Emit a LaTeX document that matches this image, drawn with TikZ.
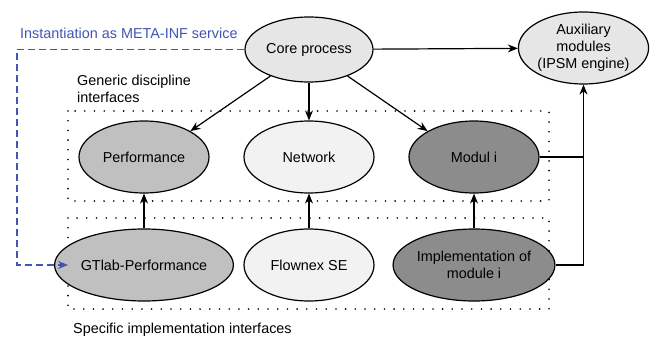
\documentclass[tikz,border=0pt]{standalone}
\usepackage{fontspec}
\setmainfont{Liberation Sans}
\usetikzlibrary{shapes.geometric,arrows.meta}
\definecolor{blueline}{HTML}{4055B5}
\definecolor{gA}{HTML}{E6E6E6}
\definecolor{gB}{HTML}{C0C0C0}
\definecolor{gC}{HTML}{F2F2F2}
\definecolor{gD}{HTML}{8C8C8C}
\begin{document}
\begin{tikzpicture}[x=1pt,y=-1pt,
  font=\fontsize{14.4}{17.2}\selectfont,
  ell/.style={ellipse,draw=black,line width=1.2pt,inner sep=0pt,minimum width=130pt,minimum height=72pt,align=center},
  arr/.style={-{Stealth[length=10pt,width=8pt]},line width=1.2pt},
  plain/.style={line width=1.2pt},
  dotbox/.style={line width=1.8pt,dash pattern=on 0pt off 9.7pt,line cap=round},
  bluedash/.style={draw=blueline,line width=1.2pt,dash pattern=on 7pt off 4pt,-{Stealth[length=10pt,width=8pt]}},
  lbl/.style={inner sep=0pt,align=left,anchor=west}
]
\useasboundingbox (0,0) rectangle (650,337);
% dotted boxes
\draw[dotbox] (68,111) rectangle (549,201);
\draw[dotbox] (68,218) rectangle (549,309);
% nodes
\node[ell,fill=gA,minimum width=128pt,minimum height=65pt] (core) at (309,49.5) {Core process};
\node[ell,fill=gA,minimum width=129pt,minimum height=72pt] (aux) at (583.5,48) {Auxiliary\\modules\\(IPSM engine)};
\node[ell,fill=gB] (perf) at (144,157) {Performance};
\node[ell,fill=gC] (net) at (309,157) {Network};
\node[ell,fill=gD] (mod) at (474,157) {Modul i};
\node[ell,fill=gB] (gtl) at (144,265) {GTlab-Performance};
\node[ell,fill=gC] (flow) at (309,265) {Flownex SE};
\node[ell,fill=gD] (impl) at (474,265) {Implementation of\\module i};
% labels
\node[lbl,text=blueline] (inst) at (20,33) {Instantiation as META-INF service};
\node[lbl] (gen) at (77,88.5) {Generic discipline\\interfaces};
\node[lbl] (spec) at (73,330) {Specific implementation interfaces};
% coordinates
\coordinate (bl1) at (17,49.5);
\coordinate (bl2) at (17,265);
\coordinate (bl3) at (68,265);
\coordinate (rj) at (584,157);
% connectors
\draw[arr] (core) -- (aux);
\draw[arr] (core) -- (perf.north east);
\draw[arr] (core) -- (net);
\draw[arr] (core) -- (mod.north west);
\draw[arr] (gtl) -- (perf);
\draw[arr] (flow) -- (net);
\draw[arr] (impl) -- (mod);
\draw[plain] (mod.east) -- (rj);
\draw[arr] (impl.east) -| (aux.south);
\draw[bluedash] (core.west) -- (bl1) -- (bl2) -- (bl3);
\end{tikzpicture}
\end{document}
